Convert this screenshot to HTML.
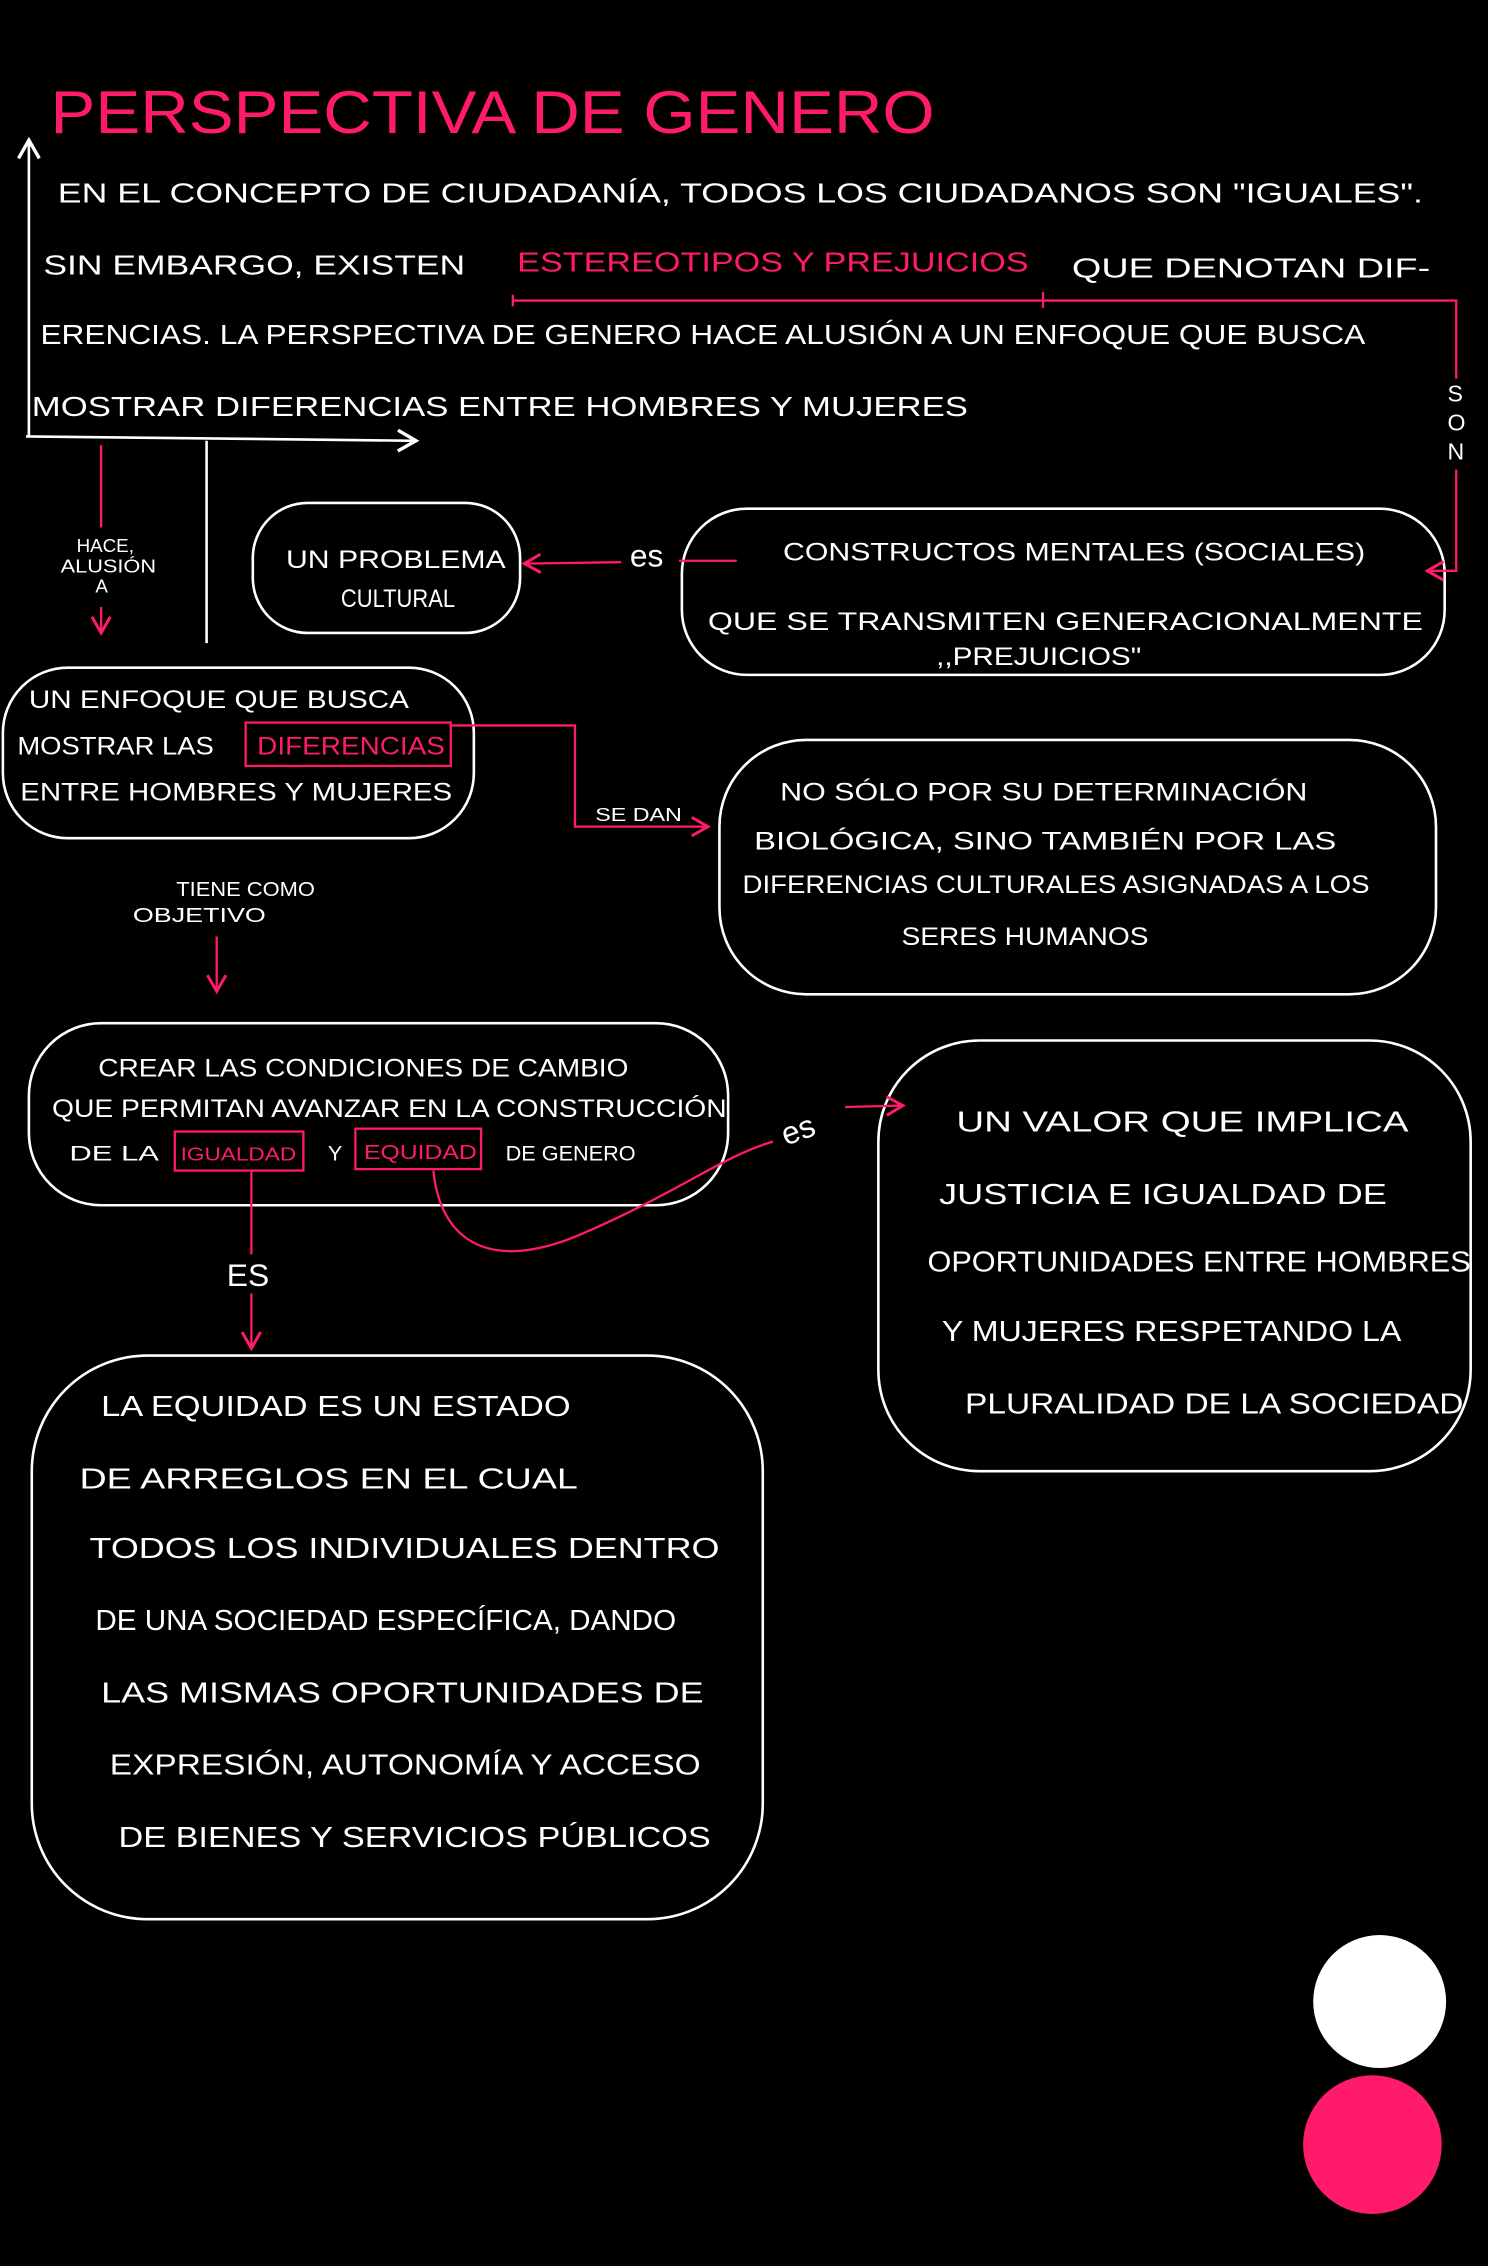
<!DOCTYPE html>
<html><head><meta charset="utf-8"><style>
html,body{margin:0;padding:0;background:#000;}
svg{display:block}
text{font-family:"Liberation Sans",sans-serif;fill:#fff;}
.p{fill:#ff1a6c}
</style></head><body>
<svg width="1488" height="2266" viewBox="0 0 1030 1568" preserveAspectRatio="none" xmlns="http://www.w3.org/2000/svg">
<rect width="1030" height="1568" fill="#000"/>
<defs>
<marker id="aw" markerWidth="10" markerHeight="10" refX="8" refY="5" orient="auto"><path d="M1,1 L8,5 L1,9" fill="none" stroke="#fff" stroke-width="1.3"/></marker>
<marker id="ap" markerWidth="10" markerHeight="10" refX="8" refY="5" orient="auto"><path d="M1,1 L8,5 L1,9" fill="none" stroke="#ff1a6c" stroke-width="1.3"/></marker>
</defs>
<g lengthAdjust="spacingAndGlyphs">
<text x="35" y="92" class="p" font-size="42" textLength="612" lengthAdjust="spacingAndGlyphs">PERSPECTIVA DE GENERO</text>
<g font-size="19">
<text x="40" y="140" textLength="945" lengthAdjust="spacingAndGlyphs">EN EL CONCEPTO DE CIUDADANÍA, TODOS LOS CIUDADANOS SON "IGUALES".</text>
<text x="30" y="190" textLength="292" lengthAdjust="spacingAndGlyphs">SIN EMBARGO, EXISTEN</text>
<text x="358" y="188" class="p" textLength="354" lengthAdjust="spacingAndGlyphs">ESTEREOTIPOS Y PREJUICIOS</text>
<text x="742" y="192" textLength="248" lengthAdjust="spacingAndGlyphs">QUE DENOTAN DIF-</text>
<text x="28" y="238" textLength="917" lengthAdjust="spacingAndGlyphs">ERENCIAS. LA PERSPECTIVA DE GENERO HACE ALUSIÓN A UN ENFOQUE QUE BUSCA</text>
<text x="22" y="288" textLength="648" lengthAdjust="spacingAndGlyphs">MOSTRAR DIFERENCIAS ENTRE HOMBRES Y MUJERES</text>
</g>
</g>
<g stroke="#fff" stroke-width="1.8" fill="none">
<line x1="20" y1="302" x2="20" y2="97" marker-end="url(#aw)"/>
<line x1="18" y1="302" x2="288" y2="305" marker-end="url(#aw)"/>
<line x1="143" y1="305" x2="143" y2="445"/>
<rect x="175" y="348" width="185" height="90" rx="38"/>
<rect x="472" y="352" width="528" height="115" rx="45"/>
<rect x="2" y="462" width="326" height="118" rx="45"/>
<rect x="498" y="512" width="496" height="176" rx="60"/>
<rect x="20" y="708" width="484" height="126" rx="50"/>
<rect x="608" y="720" width="410" height="298" rx="70"/>
<rect x="22" y="938" width="506" height="390" rx="80"/>
</g>
<g stroke="#ff1a6c" stroke-width="1.6" fill="none">
<polyline points="355,204 355,212 355,208 1008,208 1008,262"/>
<line x1="722" y1="202" x2="722" y2="213"/>
<polyline points="1008,325 1008,395 988,395" marker-end="url(#ap)"/>
<line x1="510" y1="388" x2="470" y2="388"/>
<line x1="430" y1="389" x2="363" y2="390" marker-end="url(#ap)"/>
<line x1="70" y1="308" x2="70" y2="365"/>
<line x1="70" y1="420" x2="70" y2="438" marker-end="url(#ap)"/>
<rect x="170" y="500" width="142" height="30"/>
<polyline points="312,502 398,502 398,572 490,572" marker-end="url(#ap)"/>
<line x1="150" y1="648" x2="150" y2="686" marker-end="url(#ap)"/>
<rect x="121" y="783" width="89" height="27"/>
<rect x="246" y="781" width="87" height="28"/>
<line x1="174" y1="810" x2="174" y2="868"/>
<line x1="174" y1="895" x2="174" y2="933" marker-end="url(#ap)"/>
<path d="M300,810 C305,860 340,880 400,855 C470,825 500,800 535,790"/>
<line x1="585" y1="766" x2="625" y2="765" marker-end="url(#ap)"/>
</g>
<g class="p" font-size="16">
<text x="1002" y="278">S</text><text x="1002" y="298">O</text><text x="1002" y="318">N</text>
<text x="436" y="392" font-size="22">es</text>
<text x="53" y="382" font-size="13">HACE,</text><text x="42" y="396" font-size="13" textLength="66" lengthAdjust="spacingAndGlyphs">ALUSIÓN</text><text x="66" y="410" font-size="13">A</text>
<text x="412" y="568" font-size="13" textLength="60" lengthAdjust="spacingAndGlyphs">SE DAN</text>
<text x="122" y="620" font-size="14" textLength="96" lengthAdjust="spacingAndGlyphs">TIENE COMO</text><text x="92" y="638" font-size="14" textLength="92" lengthAdjust="spacingAndGlyphs">OBJETIVO</text>
<text x="157" y="890" font-size="22">ES</text>
<text x="540" y="790" font-size="22" transform="rotate(-20 550 780)">es</text>
<text x="648" y="460" font-size="17" textLength="142" lengthAdjust="spacingAndGlyphs">,,PREJUICIOS"</text>
</g>
<g font-size="17">
<text x="198" y="393" textLength="152" lengthAdjust="spacingAndGlyphs">UN PROBLEMA</text>
<text x="236" y="420" textLength="79" lengthAdjust="spacingAndGlyphs">CULTURAL</text>
<text x="542" y="388" textLength="403" lengthAdjust="spacingAndGlyphs">CONSTRUCTOS MENTALES (SOCIALES)</text>
<text x="490" y="436" textLength="495" lengthAdjust="spacingAndGlyphs">QUE SE TRANSMITEN GENERACIONALMENTE</text>
<text x="20" y="490" textLength="263" lengthAdjust="spacingAndGlyphs">UN ENFOQUE QUE BUSCA</text>
<text x="12" y="522" textLength="136" lengthAdjust="spacingAndGlyphs">MOSTRAR LAS</text>
<text x="178" y="522" class="p" textLength="130" lengthAdjust="spacingAndGlyphs">DIFERENCIAS</text>
<text x="14" y="554" textLength="299" lengthAdjust="spacingAndGlyphs">ENTRE HOMBRES Y MUJERES</text>
<text x="540" y="554" textLength="365" lengthAdjust="spacingAndGlyphs">NO SÓLO POR SU DETERMINACIÓN</text>
<text x="522" y="588" textLength="403" lengthAdjust="spacingAndGlyphs">BIOLÓGICA, SINO TAMBIÉN POR LAS</text>
<text x="514" y="618" textLength="434" lengthAdjust="spacingAndGlyphs">DIFERENCIAS CULTURALES ASIGNADAS A LOS</text>
<text x="624" y="654" textLength="171" lengthAdjust="spacingAndGlyphs">SERES HUMANOS</text>
<text x="68" y="745" textLength="367" lengthAdjust="spacingAndGlyphs">CREAR LAS CONDICIONES DE CAMBIO</text>
<text x="36" y="773" textLength="467" lengthAdjust="spacingAndGlyphs">QUE PERMITAN AVANZAR EN LA CONSTRUCCIÓN</text>
<g font-size="15">
<text x="48" y="803" textLength="62" lengthAdjust="spacingAndGlyphs">DE LA</text>
<text x="125" y="803" class="p" font-size="13" textLength="80" lengthAdjust="spacingAndGlyphs">IGUALDAD</text>
<text x="227" y="803">Y</text>
<text x="252" y="802" class="p" font-size="14" textLength="78" lengthAdjust="spacingAndGlyphs">EQUIDAD</text>
<text x="350" y="803" textLength="90" lengthAdjust="spacingAndGlyphs">DE GENERO</text>
</g>
</g>
<g font-size="20">
<text x="662" y="783" textLength="313" lengthAdjust="spacingAndGlyphs">UN VALOR QUE IMPLICA</text>
<text x="650" y="833" textLength="310" lengthAdjust="spacingAndGlyphs">JUSTICIA E IGUALDAD DE</text>
<text x="642" y="880" textLength="376" lengthAdjust="spacingAndGlyphs">OPORTUNIDADES ENTRE HOMBRES</text>
<text x="652" y="928" textLength="318" lengthAdjust="spacingAndGlyphs">Y MUJERES RESPETANDO LA</text>
<text x="668" y="978" textLength="345" lengthAdjust="spacingAndGlyphs">PLURALIDAD DE LA SOCIEDAD</text>
<text x="70" y="980" textLength="325" lengthAdjust="spacingAndGlyphs">LA EQUIDAD ES UN ESTADO</text>
<text x="55" y="1030" textLength="345" lengthAdjust="spacingAndGlyphs">DE ARREGLOS EN EL CUAL</text>
<text x="62" y="1078" textLength="436" lengthAdjust="spacingAndGlyphs">TODOS LOS INDIVIDUALES DENTRO</text>
<text x="66" y="1128" textLength="402" lengthAdjust="spacingAndGlyphs">DE UNA SOCIEDAD ESPECÍFICA, DANDO</text>
<text x="70" y="1178" textLength="417" lengthAdjust="spacingAndGlyphs">LAS MISMAS OPORTUNIDADES DE</text>
<text x="76" y="1228" textLength="409" lengthAdjust="spacingAndGlyphs">EXPRESIÓN, AUTONOMÍA Y ACCESO</text>
<text x="82" y="1278" textLength="410" lengthAdjust="spacingAndGlyphs">DE BIENES Y SERVICIOS PÚBLICOS</text>
</g>
<circle cx="955" cy="1385" r="46" fill="#fff"/>
<circle cx="950" cy="1484" r="48" fill="#ff1a6c"/>
</svg>
</body></html>
